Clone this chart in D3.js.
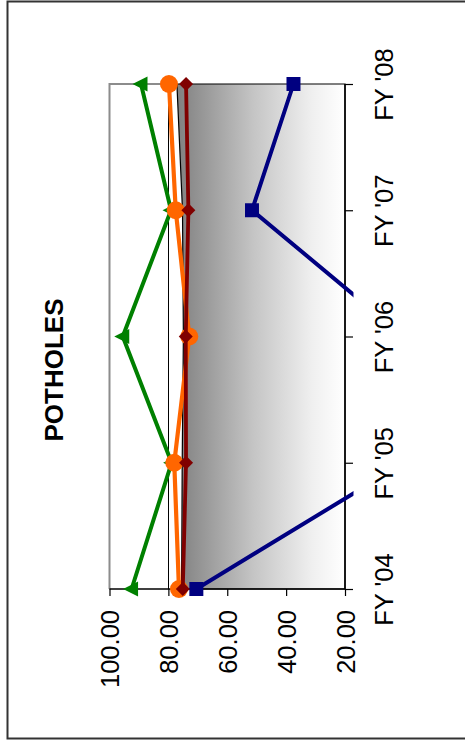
<!DOCTYPE html>
<html>
<head>
<meta charset="utf-8">
<script src="https://cdn.jsdelivr.net/npm/d3@7"></script>
<style>
  html, body { margin: 0; padding: 0; background: #fff; }
  svg { display: block; }
  text { font-family: "Liberation Sans", Arial, sans-serif; fill: #000; }
</style>
</head>
<body>
<svg id="chart" width="465" height="740"></svg>
<script>
// ---- data ----
const categories = ["FY '04", "FY '05", "FY '06", "FY '07", "FY '08"];
const valueTicks = [100, 80, 60, 40, 20];
const areaSeries   = [75.5, 75.3, 74.9, 75.2, 77.1];   // grey gradient area
const greenSeries  = [92.5, 78.9, 95.5, 79.1, 89.3];   // triangles
const navySeries   = [70.5, 0, 0, 51.6, 37.5];         // squares
const orangeSeries = [76.4, 78.0, 72.9, 77.5, 79.8];   // circles
const redSeries    = [75.1, 74.0, 74.1, 73.2, 74.0];   // diamonds
const chartTitle = "POTHOLES";

// ---- layout ----
const svg = d3.select("#chart");
const pL = 109.5, pR = 345, pT = 84, pB = 589;

const x = d3.scaleLinear().domain([20, 100]).range([pR, pL]);
const y = d3.scalePoint().domain(categories).range([pB, pT]);

// outer border
svg.append("rect").attr("x", 7.5).attr("y", 1.5).attr("width", 470).attr("height", 737)
  .attr("fill", "none").attr("stroke", "#333").attr("stroke-width", 2);

// plot area background
svg.append("rect").attr("x", pL).attr("y", pT).attr("width", pR - pL).attr("height", pB - pT)
  .attr("fill", "#fff");

// gridlines (interior ticks)
svg.append("g").selectAll("line")
  .data(valueTicks.filter(v => v > 20 && v < 100))
  .join("line")
  .attr("x1", d => x(d)).attr("x2", d => x(d))
  .attr("y1", pT).attr("y2", pB)
  .attr("stroke", "#000").attr("stroke-width", 1).attr("shape-rendering", "crispEdges");

// gradient
const defs = svg.append("defs");
const grad = defs.append("linearGradient").attr("id", "areaGrad")
  .attr("x1", "0%").attr("x2", "100%").attr("y1", "0%").attr("y2", "0%");
[[0, "#808080"], [0.45, "#c4c4c4"], [0.8, "#efefef"], [1, "#ffffff"]].forEach(([o, c]) =>
  grad.append("stop").attr("offset", o).attr("stop-color", c));

defs.append("clipPath").attr("id", "clip").append("rect")
  .attr("x", 0).attr("y", 0).attr("width", 353.5).attr("height", 740);

// area series
const areaGen = d3.area()
  .y((d, i) => y(categories[i]))
  .x0(x(20))
  .x1(d => x(d));
svg.append("path").datum(areaSeries).attr("d", areaGen)
  .attr("fill", "url(#areaGrad)").attr("stroke", "#000").attr("stroke-width", 1.2);

// plot border (grey) left & top
svg.append("path")
  .attr("d", `M${pL},${pB}V${pT}H${x(areaSeries[4])}`)
  .attr("fill", "none").attr("stroke", "#8c8c8c").attr("stroke-width", 2);

// axes
const xAxis = d3.axisBottom(x).tickValues(valueTicks).tickSize(7).tickFormat(d3.format(".2f"));
const gx = svg.append("g").attr("transform", `translate(0,${pB})`).call(xAxis);
gx.select(".domain").attr("stroke", "#000").attr("stroke-width", 1.5)
  .attr("d", `M${pL},0H${pR}`);
gx.selectAll(".tick line").attr("stroke", "#000").attr("stroke-width", 1.2);
gx.selectAll(".tick text")
  .attr("font-size", 25.5).attr("font-family", "'Liberation Sans', Arial, sans-serif")
  .attr("text-anchor", "end").attr("x", 0).attr("y", 0).attr("dy", "0.36em")
  .attr("transform", "translate(0,21) rotate(-90)");

const yAxis = d3.axisRight(y).tickSize(8);
const gy = svg.append("g").attr("transform", `translate(${pR},0)`).call(yAxis);
gy.select(".domain").attr("stroke", "#000").attr("stroke-width", 1.5)
  .attr("d", `M0,${pT}V${pB}`);
gy.selectAll(".tick line").attr("stroke", "#000").attr("stroke-width", 1.2);
gy.selectAll(".tick text")
  .attr("font-size", 25.5).attr("font-family", "'Liberation Sans', Arial, sans-serif")
  .attr("text-anchor", "middle").attr("x", 0).attr("y", 0).attr("dy", "0.36em")
  .attr("transform", "translate(39,0) rotate(-90)");

// series lines
const lineGen = d3.line().y((d, i) => y(categories[i])).x(d => x(d));
const series = [
  { data: navySeries,   color: "#000080", width: 4,   marker: "square" },
  { data: greenSeries,  color: "#008000", width: 4,   marker: "triangle" },
  { data: orangeSeries, color: "#FF6600", width: 4.2, marker: "circle" },
  { data: redSeries,    color: "#800000", width: 3.8, marker: "diamond" }
];
const markerPath = {
  square: "M-7,-7H7V7H-7Z",
  triangle: "M-8.5,0L6.5,-7.5L6.5,7.5Z",
  diamond: "M0,-7L7,0L0,7L-7,0Z"
};
series.forEach(s => {
  const g = svg.append("g").attr("clip-path", "url(#clip)");
  g.append("path").datum(s.data).attr("d", lineGen)
    .attr("fill", "none").attr("stroke", s.color).attr("stroke-width", s.width)
    .attr("stroke-linejoin", "round");
  const pts = s.data.map((v, i) => ({ v, c: categories[i] })).filter(p => p.v >= 20);
  if (s.marker === "circle") {
    g.selectAll("circle").data(pts).join("circle")
      .attr("cx", d => x(d.v)).attr("cy", d => y(d.c)).attr("r", 9).attr("fill", s.color);
  } else {
    g.selectAll(".m").data(pts).join("path").attr("class", "m")
      .attr("d", markerPath[s.marker])
      .attr("transform", d => `translate(${x(d.v)},${y(d.c)})`)
      .attr("fill", s.color);
  }
});

// title
svg.append("text").text(chartTitle)
  .attr("transform", "translate(54,370) rotate(-90)")
  .attr("text-anchor", "middle").attr("dy", "0.36em")
  .attr("font-size", 26).attr("font-weight", "bold");
</script>
</body>
</html>
